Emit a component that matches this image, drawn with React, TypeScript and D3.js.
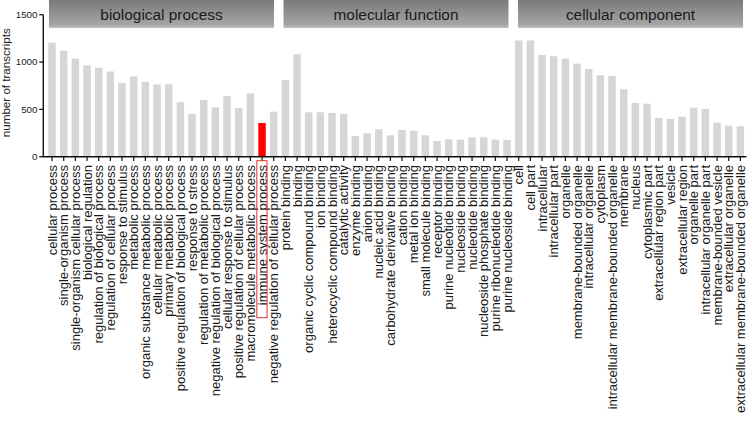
import React from "react";
import * as d3 from "d3";

const groups = ["biological process", "molecular function", "cellular component"];

const bpCategories = [
  "cellular process", "single-organism process", "single-organism cellular process",
  "biological regulation", "regulation of biological process", "regulation of cellular process",
  "response to stimulus", "metabolic process", "organic substance metabolic process",
  "cellular metabolic process", "primary metabolic process", "positive regulation of biological process",
  "response to stress", "regulation of metabolic process", "negative regulation of biological process",
  "cellular response to stimulus", "positive regulation of cellular process",
  "macromolecule metabolic process", "immune system process", "negative regulation of cellular process",
];
const bpValues = [1205, 1120, 1035, 965, 940, 900, 780, 848, 790, 762, 765, 575, 452, 600, 522, 640, 515, 668, 356, 476];

const mfCategories = [
  "protein binding", "binding", "organic cyclic compound binding", "ion binding",
  "heterocyclic compound binding", "catalytic activity", "enzyme binding", "anion binding",
  "nucleic acid binding", "carbohydrate derivative binding", "cation binding", "metal ion binding",
  "small molecule binding", "receptor binding", "purine nucleotide binding", "nucleoside binding",
  "nucleotide binding", "nucleoside phosphate binding", "purine ribonucleotide binding",
  "purine nucleoside binding",
];
const mfValues = [810, 1082, 469, 469, 462, 452, 219, 247, 290, 226, 282, 275, 226, 166, 184, 180, 205, 205, 180, 177];

const ccCategories = [
  "cell", "cell part", "intracellular", "intracellular part", "organelle",
  "membrane-bounded organelle", "intracellular organelle", "cytoplasm",
  "intracellular membrane-bounded organelle", "membrane", "nucleus", "cytoplasmic part",
  "extracellular region part", "vesicle", "extracellular region", "organelle part",
  "intracellular organelle part", "membrane-bounded vesicle", "extracellular organelle",
  "extracellular membrane-bounded organelle",
];
const ccValues = [1228, 1228, 1075, 1061, 1036, 983, 927, 860, 853, 712, 568, 560, 409, 399, 423, 518, 504, 359, 328, 321];

const highlighted = ["immune system process"];
const yTicks = [0, 500, 1000, 1500];
const yTitle = "number of transcripts";

const W = 749;
const H = 429;
const FONT = "'Liberation Sans', Arial, sans-serif";

export default function App() {
  const groupCats = [bpCategories, mfCategories, ccCategories];
  const groupVals = [bpValues, mfValues, ccValues];
  const data = groupCats.flatMap((cats, gi) =>
    cats.map((c, i) => ({ cat: c, value: groupVals[gi][i], group: groups[gi] }))
  );

  const x = d3
    .scaleBand<string>()
    .domain(data.map((d) => d.cat))
    .range([46.2, 746.2])
    .paddingInner(0.36)
    .paddingOuter(0.18);
  const y = d3.scaleLinear().domain([0, 1500]).range([156.7, 14.7]);
  const hx = d3.scaleBand<string>().domain(groups).range([49, 743]).paddingInner(0.0405);

  const axisX0 = 43.3;
  const y0 = y(0);
  const labelFont = 13;
  const labelTop = 165;

  return (
    <svg
      width={W}
      height={H}
      style={{ position: "absolute", left: 0, top: 0, background: "#fff" }}
      fontFamily={FONT}
    >
      <defs>
        <linearGradient id="hdr" x1="0" y1="0" x2="0" y2="1">
          <stop offset="0" stopColor="#7a7a7a" />
          <stop offset="0.9" stopColor="#a6a6a6" />
          <stop offset="1" stopColor="#c4c4c4" />
        </linearGradient>
      </defs>

      {groups.map((g) => (
        <g key={g}>
          <rect x={hx(g)} y={0} width={hx.bandwidth()} height={28} fill="url(#hdr)" />
          <text
            x={(hx(g) as number) + hx.bandwidth() / 2}
            y={19.5}
            textAnchor="middle"
            fontSize={15.4}
            fill="#1a1a1a"
          >
            {g}
          </text>
        </g>
      ))}

      {data.map((d) => (
        <rect
          key={d.cat}
          x={x(d.cat)}
          y={y(d.value)}
          width={x.bandwidth()}
          height={y0 - y(d.value)}
          fill={highlighted.includes(d.cat) ? "#ff0000" : "#d6d6d6"}
        />
      ))}

      <line x1={axisX0} x2={axisX0} y1={y(1500)} y2={y0} stroke="#111" strokeWidth={1.4} />
      {yTicks.map((t) => (
        <g key={t}>
          <line x1={axisX0 - 4} x2={axisX0} y1={y(t)} y2={y(t)} stroke="#111" strokeWidth={1.3} />
          <text x={37.5} y={y(t)} dy="0.35em" textAnchor="end" fontSize={9.8} fill="#222">
            {t}
          </text>
        </g>
      ))}
      <text
        transform={`translate(9.5, ${(y(1500) + y0) / 2 - 3}) rotate(-90)`}
        textAnchor="middle"
        fontSize={11.6}
        fill="#222"
      >
        {yTitle}
      </text>

      <line x1={axisX0 - 0.7} x2={746.5} y1={y0} y2={y0} stroke="#111" strokeWidth={1.4} />
      {data.map((d) => {
        const cx = (x(d.cat) as number) + x.bandwidth() / 2;
        return (
          <g key={"t" + d.cat}>
            <line x1={cx} x2={cx} y1={y0} y2={y0 + 4.3} stroke="#111" strokeWidth={1.2} />
            <text
              transform={`translate(${cx}, ${labelTop}) rotate(-90)`}
              dy="0.35em"
              textAnchor="end"
              fontSize={labelFont}
              fill="#1a1a1a"
            >
              {d.cat}
            </text>
          </g>
        );
      })}

      {highlighted.map((c) => {
        const cx = (x(c) as number) + x.bandwidth() / 2;
        return (
          <rect
            key={"h" + c}
            x={cx - 5.2}
            y={160.7}
            width={10.2}
            height={157}
            fill="none"
            stroke="#e03030"
            strokeWidth={1}
          />
        );
      })}
    </svg>
  );
}
